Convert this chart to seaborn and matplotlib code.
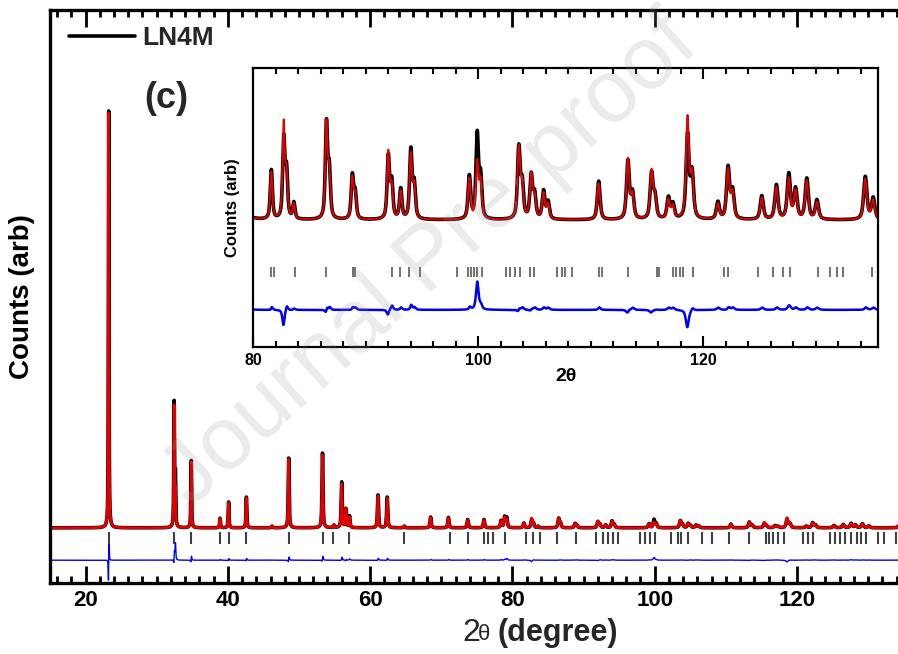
import numpy as np
import pandas as pd
import matplotlib
matplotlib.use("Agg")
import matplotlib.pyplot as plt
from matplotlib.lines import Line2D
from matplotlib.ticker import MultipleLocator
import seaborn as sns

peak_pos = [23.25, 32.45, 32.62, 34.85, 38.9, 40.1, 42.6, 46.2, 48.55, 53.3,
            54.9, 56.0, 56.6, 57.1, 61.1, 62.4, 64.8, 68.5, 71.0, 73.7,
            76.0, 78.4, 78.9, 79.2,
            81.6, 82.7, 82.95, 83.6, 86.5, 86.75, 88.8, 89.05, 92.0, 92.3,
            93.1, 94.0, 94.3, 99.2, 99.9, 100.2, 103.6, 103.9, 104.7, 105.0,
            105.8, 106.2, 110.7, 113.3, 113.7, 115.4, 115.7, 116.9, 117.3, 118.6,
            119.0, 121.3, 122.2, 122.6, 125.2, 126.5, 127.6, 128.2, 129.2, 130.1,
            134.4, 135.1]
calc_height = [100, 29.0, 8.0, 15.8, 2.2, 6.0, 7.2, 0.4, 16.5, 17.5,
               0.6, 10.5, 4.5, 2.5, 7.6, 7.1, 0.4, 2.5, 2.4, 1.9,
               1.9, 1.6, 2.4, 2.0,
               1.1, 2.2, 1.0, 0.35, 2.2, 1.05, 0.95, 0.55, 1.55, 0.75,
               0.65, 1.5, 0.75, 0.95, 1.3, 0.85, 1.65, 0.75, 1.0, 0.5,
               0.6, 0.35, 0.85, 1.4, 0.55, 1.1, 0.5, 0.45, 0.3, 2.35,
               1.0, 0.35, 1.15, 0.6, 0.5, 0.75, 0.95, 0.65, 0.9, 0.4,
               0.95, 0.45]
obs_height = [100.5, 29.8, 12.0, 16.2, 2.3, 6.2, 7.4, 0.4, 16.8, 18.0,
              0.6, 11.0, 4.5, 2.8, 7.9, 7.4, 0.4, 2.6, 2.5, 2.0,
              2.0, 1.7, 2.6, 2.4,
              1.15, 1.85, 1.1, 0.38, 2.2, 1.1, 1.0, 0.6, 1.45, 0.85,
              0.7, 1.6, 0.8, 1.0, 1.95, 0.95, 1.65, 0.8, 1.0, 0.55,
              0.65, 0.4, 0.9, 1.35, 0.6, 1.05, 0.5, 0.5, 0.35, 1.95,
              1.05, 0.4, 1.2, 0.65, 0.55, 0.8, 1.05, 0.7, 0.95, 0.45,
              1.0, 0.5]

# Bragg reflection markers
refl_main = [23.3, 32.4, 34.8, 38.9, 40.1, 42.6, 48.6, 53.35, 54.85, 57.05,
             64.8, 71.2, 73.8, 76.0, 76.6, 77.3, 78.9, 81.9, 82.9, 83.9,
             86.2, 89.0, 91.8, 92.7, 93.4, 94.1, 94.8, 97.9, 98.6, 99.3,
             100.0, 102.3, 103.3, 103.7, 104.7, 106.6, 108.0, 110.5, 113.3, 115.7,
             116.1, 116.6, 117.3, 118.2, 120.8, 121.5, 122.2, 124.6, 125.3, 126.0,
             126.7, 127.6, 128.5, 129.0, 129.7, 131.4, 132.3, 133.9]
refl_inset = [81.6, 81.8, 83.7, 86.5, 88.9, 89.0, 92.3, 93.0, 93.8, 94.8,
              98.1, 99.1, 99.35, 99.6, 99.9, 100.3, 102.5, 102.8, 103.3, 103.7,
              104.6, 104.95, 107.0, 107.4, 107.7, 108.3, 110.7, 111.0, 113.3, 115.9,
              116.1, 117.3, 117.6, 117.9, 118.2, 119.1, 121.8, 122.2, 124.9, 126.2,
              127.1, 127.7, 130.2, 131.3, 131.9, 132.4, 135.0]


def profile(x, heights, shift=0.0):
    y = np.zeros_like(x)
    for p, h in zip(peak_pos, heights):
        hw = (0.05 + 0.0022 * p) / 2
        d = (x - p - shift) / hw
        y += h * (0.65 / (1 + d ** 2) + 0.35 * np.exp(-np.log(2) * d ** 2))
    return y


tt = np.arange(15, 136, 0.005)
df = pd.DataFrame({"tt": tt})
df["calc"] = profile(tt, calc_height)
df["obs"] = profile(tt, obs_height, shift=0.004)
df["diff"] = df["obs"] - df["calc"]

sns.set_theme(style="ticks")
plt.rcParams["font.family"] = ["Liberation Sans", "DejaVu Sans"]

fig = plt.figure(figsize=(8.98, 6.54), dpi=100)
ax = fig.add_axes([50 / 898, 1 - 583 / 654, 848 / 898, 573 / 654])

sns.lineplot(data=df, x="tt", y="obs", color="black", lw=2.6, ax=ax,
             estimator=None, sort=False, legend=False)
sns.lineplot(data=df, x="tt", y="calc", color="#e00000", lw=2.0, ax=ax,
             estimator=None, sort=False, legend=False)
sns.lineplot(x=df["tt"], y=df["diff"] - 7.8, color="#0000ee", lw=1.0, ax=ax,
             estimator=None, sort=False, legend=False)
ax.vlines(refl_main, -3.8, -1.0, color="0.25", lw=1.5)

ax.set_xlim(15, 134.2)
ax.set_ylim(-13.3, 124.8)
ax.set_yticks([])
ax.xaxis.set_major_locator(MultipleLocator(20))
ax.xaxis.set_minor_locator(MultipleLocator(2))
ax.tick_params(axis="x", which="both", direction="in", top=True, width=2,
               labelsize=16, pad=5, colors="black")
ax.tick_params(axis="x", which="major", length=12)
ax.tick_params(axis="x", which="minor", length=5)
for lab in ax.get_xticklabels():
    lab.set_fontweight("bold")
for s in ["left", "top", "bottom"]:
    ax.spines[s].set_linewidth(2.4)
    ax.spines[s].set_color("black")
ax.spines["right"].set_visible(False)
ax.set_xlabel("")
ax.set_ylabel("Counts (arb)", fontsize=20, fontweight="bold", color="black")
ax.yaxis.set_label_coords(-0.018, 0.5)

ax.legend(handles=[Line2D([], [], color="black", lw=2.6)], labels=["LN4M"],
          loc="upper left", bbox_to_anchor=(0.022, 0.972), frameon=False,
          borderpad=0, borderaxespad=0, handlelength=2.5, handletextpad=0.3,
          prop={"weight": "bold", "size": 19})
ax.text(0.1366, 0.8464, "(c)", transform=ax.transAxes, ha="center", va="center",
        fontsize=26, fontweight="bold")

fig.text(0.5243, 0.032, "2", fontsize=23, ha="center", va="center")
fig.text(0.5395, 0.030, "θ", fontsize=16, ha="center", va="center")
fig.text(0.6208, 0.032, "(degree)", fontsize=22, fontweight="bold",
         ha="center", va="center")

# inset: zoom on the high-angle part
axin = fig.add_axes([253.3 / 898, 1 - 347.3 / 654, 625 / 898, 279 / 654])
axin.set_facecolor("white")
sns.lineplot(data=df, x="tt", y="obs", color="black", lw=2.6, ax=axin,
             estimator=None, sort=False, legend=False)
sns.lineplot(data=df, x="tt", y="calc", color="#e00000", lw=1.4, ax=axin,
             estimator=None, sort=False, legend=False)
sns.lineplot(x=df["tt"], y=df["diff"] - 2.1, color="#0000ee", lw=1.8, ax=axin,
             estimator=None, sort=False, legend=False)
axin.vlines(refl_inset, -1.33, -1.09, color="0.35", lw=1.2)
axin.set_xlim(80, 135.56)
axin.set_ylim(-2.974, 3.544)
axin.set_yticks([])
axin.xaxis.set_major_locator(MultipleLocator(20))
axin.xaxis.set_minor_locator(MultipleLocator(2))
axin.tick_params(axis="x", which="both", direction="in", top=True, width=1.5,
                 labelsize=11.5, pad=4, colors="black")
axin.tick_params(axis="x", which="major", length=8)
axin.tick_params(axis="x", which="minor", length=4)
for lab in axin.get_xticklabels():
    lab.set_fontweight("bold")
for s in axin.spines.values():
    s.set_linewidth(1.6)
    s.set_color("black")
axin.set_xlabel("2θ", fontsize=14, fontweight="bold", labelpad=0, color="black")
axin.set_ylabel("Counts (arb)", fontsize=12, fontweight="bold", color="black")
axin.yaxis.set_label_coords(-0.021, 0.5)

# journal watermark
fig.text(0.48, 0.60, "Journal Pre-proof", rotation=42, fontsize=64,
         color="0.6", alpha=0.2, ha="center", va="center", zorder=20)

fig.savefig("out.png", dpi=100)
